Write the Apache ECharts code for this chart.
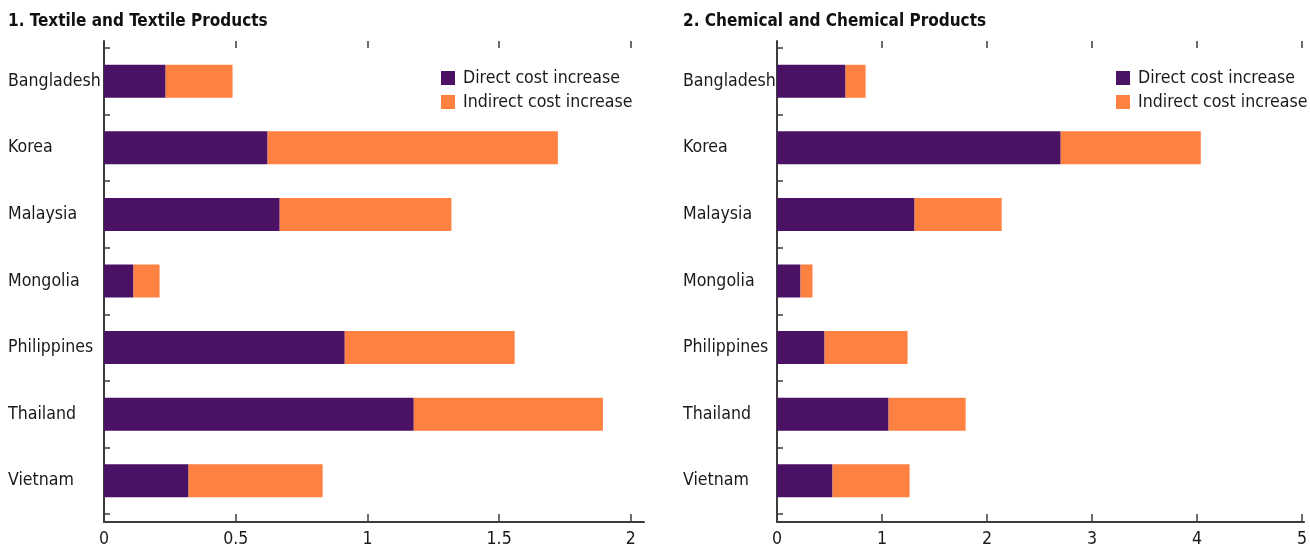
<!DOCTYPE html>
<html>
<head>
<meta charset="utf-8">
<script src="https://cdn.jsdelivr.net/npm/echarts@6/dist/echarts.min.js"></script>
<style>
  html, body { margin: 0; padding: 0; background: #fff; }
  #chart { width: 1310px; height: 549px; }
</style>
</head>
<body>
<div id="chart"></div>
<script>
// Economies shown in both panels (top to bottom)
const countries = ['Bangladesh', 'Korea', 'Malaysia', 'Mongolia', 'Philippines', 'Thailand', 'Vietnam'];

// Panel 1: Textile and Textile Products
const textileDirect   = [0.234, 0.621, 0.667, 0.112, 0.914, 1.176, 0.321];
const textileIndirect = [0.254, 1.102, 0.652, 0.099, 0.645, 0.718, 0.509];

// Panel 2: Chemical and Chemical Products
const chemicalDirect   = [0.647, 2.677, 1.298, 0.222, 0.449, 1.053, 0.524];
const chemicalIndirect = [0.189, 1.322, 0.822, 0.113, 0.783, 0.727, 0.727];

const titles = ['1. Textile and Textile Products', '2. Chemical and Chemical Products'];
const seriesNames = ['Direct cost increase', 'Indirect cost increase'];
const textileTicks = [0, 0.5, 1, 1.5, 2];
const chemicalTicks = [0, 1, 2, 3, 4, 5];

const FONT = "'DejaVu Sans Condensed', 'Liberation Sans Narrow', 'Arial Narrow', sans-serif";
const FS = 17.6;
const TEXT = '#1a1a1a';
const AXIS = '#3c3c3c';
const PURPLE = '#4a1165';
const ORANGE = '#ff8142';

const panels = [
  { left: 104, width: 540, max: 2.05, ticks: textileTicks, labelX: 8,
    direct: textileDirect, indirect: textileIndirect, legendLeft: 441 },
  { left: 777, width: 532, max: 5.02, ticks: chemicalTicks, labelX: 683,
    direct: chemicalDirect, indirect: chemicalIndirect, legendLeft: 1116 }
];

const grid = [], xAxis = [], yAxis = [], series = [], legend = [], title = [];

panels.forEach((p, i) => {
  const gBar = i * 2, gFrame = i * 2 + 1;
  // grid holding the bars (category bands)
  grid.push({ left: p.left, top: 48, width: p.width, height: 466 });
  // grid holding the frame axes (slightly taller than the bands)
  grid.push({ left: p.left, top: 41, width: p.width, height: 481 });

  const xb = xAxis.length;
  xAxis.push({ gridIndex: gBar, type: 'value', min: 0, max: p.max, show: false });
  xAxis.push({
    gridIndex: gFrame, type: 'value', min: 0, max: p.max, position: 'bottom',
    axisLine: { show: true, lineStyle: { color: AXIS, width: 2 } },
    axisTick: { show: true, inside: true, length: 8, customValues: p.ticks,
                lineStyle: { color: AXIS, width: 1.5 } },
    axisLabel: { show: true, customValues: p.ticks, margin: 8,
                 fontFamily: FONT, fontSize: FS, color: TEXT },
    splitLine: { show: false }
  });
  xAxis.push({
    gridIndex: gFrame, type: 'value', min: 0, max: p.max, position: 'top',
    axisLine: { show: false },
    axisTick: { show: true, inside: true, length: 7, customValues: p.ticks.slice(1),
                lineStyle: { color: AXIS, width: 1.5 } },
    axisLabel: { show: false },
    splitLine: { show: false }
  });

  const yb = yAxis.length;
  yAxis.push({
    gridIndex: gBar, type: 'category', data: countries, inverse: true,
    axisLine: { show: false },
    axisTick: { show: true, inside: true, length: 6, lineStyle: { color: AXIS, width: 1.5 } },
    axisLabel: { align: 'left', margin: p.left - p.labelX, fontFamily: FONT,
                 fontSize: FS, color: TEXT }
  });
  yAxis.push({
    gridIndex: gFrame, type: 'value', min: 0, max: 1,
    axisLine: { show: true, lineStyle: { color: AXIS, width: 2 } },
    axisTick: { show: false }, axisLabel: { show: false }, splitLine: { show: false }
  });

  const stack = 'panel' + i;
  series.push({
    type: 'bar', name: seriesNames[0], stack, xAxisIndex: xb, yAxisIndex: yb,
    data: p.direct, barWidth: 33, itemStyle: { color: PURPLE }, silent: true
  });
  series.push({
    type: 'bar', name: seriesNames[1], stack, xAxisIndex: xb, yAxisIndex: yb,
    data: p.indirect, barWidth: 33, itemStyle: { color: ORANGE }, silent: true
  });

  legend.push({
    orient: 'vertical', left: p.legendLeft, top: 69, padding: 0, data: seriesNames,
    icon: 'rect', itemWidth: 14, itemHeight: 14, itemGap: 6,
    selectedMode: false,
    textStyle: { fontFamily: FONT, fontSize: FS, color: TEXT, lineHeight: 18,
                 padding: [0, 0, 0, 3] }
  });

  title.push({
    text: titles[i], left: p.labelX, top: 13, padding: 0,
    textStyle: { fontFamily: FONT, fontSize: 17, fontWeight: 'bold', color: '#111' }
  });
});

const chart = echarts.init(document.getElementById('chart'), null, { renderer: 'canvas' });
chart.setOption({
  animation: false,
  backgroundColor: '#fff',
  title, grid, xAxis, yAxis, series, legend
});
</script>
</body>
</html>
